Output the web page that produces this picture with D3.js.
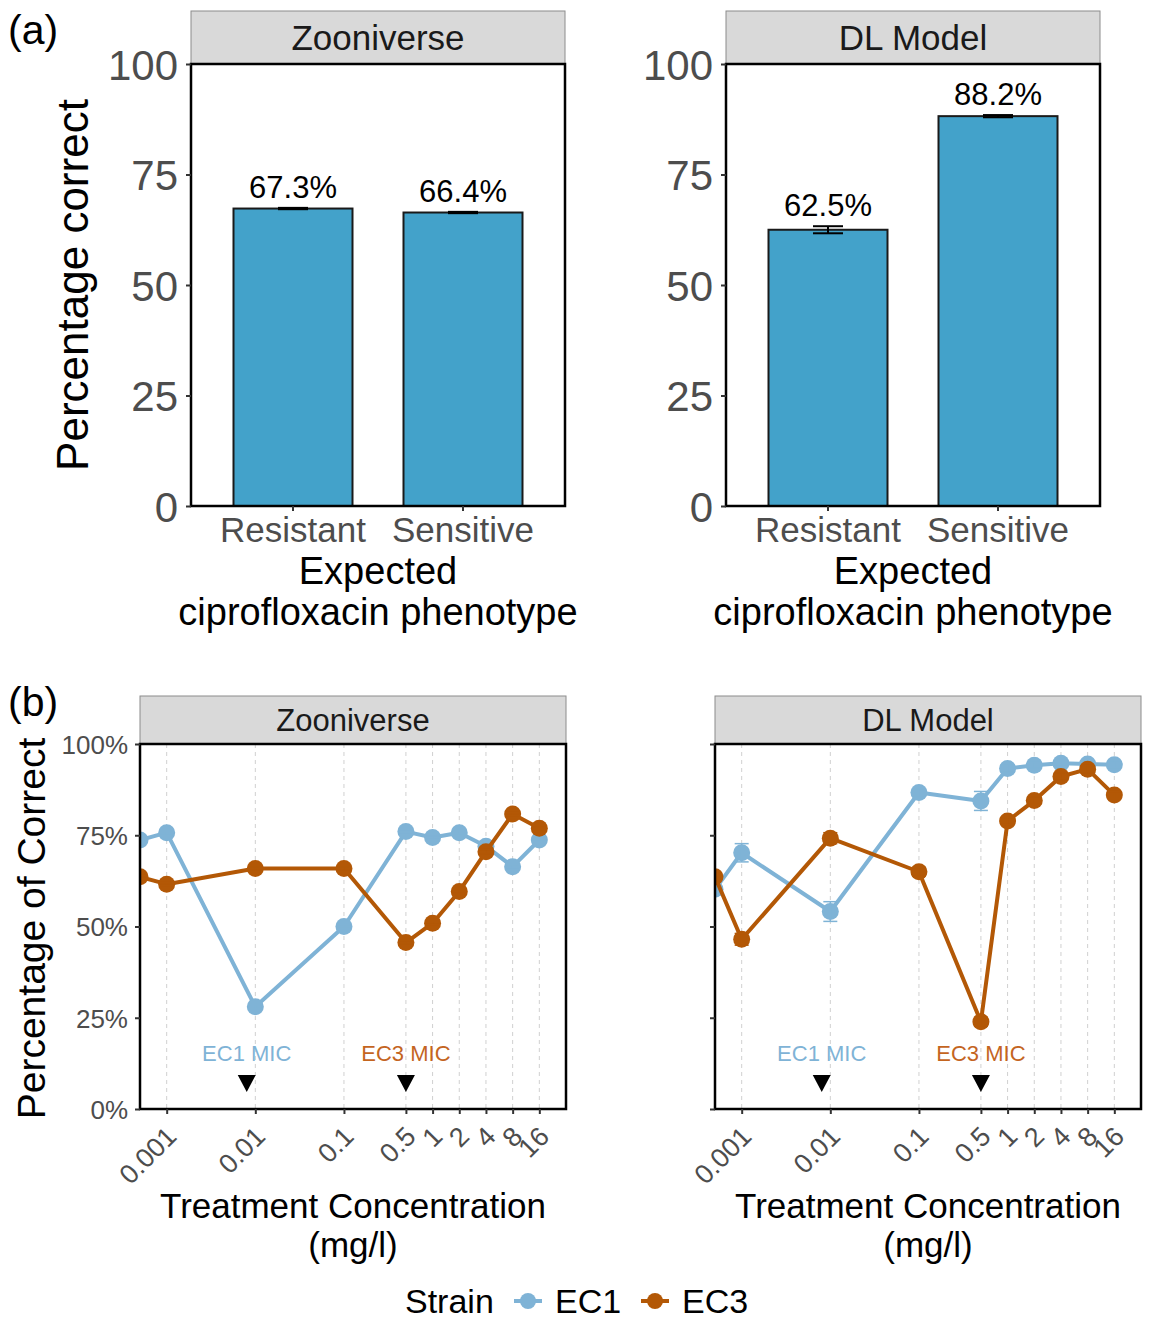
<!DOCTYPE html>
<html>
<head>
<meta charset="utf-8">
<script src="https://cdn.jsdelivr.net/npm/d3@7"></script>
<style>
  body { margin: 0; background: #fff; }
  svg { font-family: "Liberation Sans", Arial, sans-serif; display: block; }
</style>
</head>
<body>
<svg id="chart" width="1152" height="1319"></svg>
<script>
// ---- data ----
const phenotypes = ["Resistant", "Sensitive"];
const pctZooniverse = [67.3, 66.4];
const errZooniverse = [0.15, 0.15];
const pctDL = [62.5, 88.2];
const errDL = [0.8, 0.25];

const concentrations = [0.0005, 0.001, 0.01, 0.1, 0.5, 1, 2, 4, 8, 16];
const concTicks = [0.001, 0.01, 0.1, 0.5, 1, 2, 4, 8, 16];
const ec1Zoo = [73.7, 75.7, 28.0, 50.0, 76.0, 74.4, 75.7, 72.0, 66.4, 73.7];
const ec1ZooErr = [0.4, 0.4, 0.4, 0.4, 0.4, 0.4, 0.4, 0.6, 0.4, 0.4];
const ec3Zoo = [63.6, 61.6, 65.9, 65.9, 45.6, 50.9, 59.6, 70.5, 80.8, 76.9];
const ec3ZooErr = [0.4, 0.4, 0.4, 0.4, 0.4, 0.4, 0.4, 0.6, 0.4, 0.4];
const ec1DL = [60.2, 70.2, 54.1, 86.7, 84.4, 93.3, 94.2, 94.7, 94.5, 94.3];
const ec1DLErr = [1.0, 2.5, 2.7, 1.0, 2.6, 1.0, 0.8, 0.8, 0.8, 0.8];
const ec3DL = [63.6, 46.5, 74.2, 65.0, 23.9, 78.9, 84.5, 91.1, 93.1, 86.0];
const ec3DLErr = [1.0, 1.6, 1.5, 1.2, 1.2, 1.0, 1.0, 1.0, 1.0, 1.0];

const micConc = [0.008, 0.5];
const micLabels = ["EC1 MIC", "EC3 MIC"];
const strains = ["EC1", "EC3"];

const colEC1 = "#7fb3d6";
const colEC3 = "#b35806";
const colMIC = ["#7fb3d6", "#c4651f"];
const barFill = "#43a2ca";
const tickGrey = "#4d4d4d";

const svg = d3.select("#chart");

// ---------- (a) bar charts ----------
const topPanels = [
  {title: "Zooniverse", x0: 191, pct: pctZooniverse, err: errZooniverse},
  {title: "DL Model", x0: 726, pct: pctDL, err: errDL}
];
const topW = 374, topY0 = 64, topY1 = 506, topStrip = 53;

const yTop = d3.scaleLinear().domain([0, 100]).range([topY1, topY0]);

topPanels.forEach((p, pi) => {
  const g = svg.append("g");
  const x = d3.scaleBand().domain(phenotypes).range([p.x0, p.x0 + topW])
              .paddingInner(0.3).paddingOuter(0.25);

  // strip
  g.append("rect").attr("x", p.x0).attr("y", topY0 - topStrip)
   .attr("width", topW).attr("height", topStrip)
   .attr("fill", "#d9d9d9").attr("stroke", "#8c8c8c").attr("stroke-width", 1);
  g.append("text").attr("x", p.x0 + topW / 2).attr("y", topY0 - topStrip / 2)
   .attr("dy", "0.36em").attr("text-anchor", "middle")
   .attr("font-size", 35).attr("fill", "#1a1a1a").text(p.title);

  // bars
  g.selectAll(".bar").data(phenotypes).enter().append("rect")
   .attr("x", d => x(d)).attr("width", x.bandwidth())
   .attr("y", (d, i) => yTop(p.pct[i]))
   .attr("height", (d, i) => yTop(0) - yTop(p.pct[i]))
   .attr("fill", barFill).attr("stroke", "#1a1a1a").attr("stroke-width", 2);

  // error bars + value labels
  phenotypes.forEach((d, i) => {
    const cx = x(d) + x.bandwidth() / 2;
    const lo = yTop(p.pct[i] - p.err[i]), hi = yTop(p.pct[i] + p.err[i]);
    g.append("line").attr("x1", cx).attr("x2", cx).attr("y1", lo).attr("y2", hi)
     .attr("stroke", "#000").attr("stroke-width", 2);
    [lo, hi].forEach(yy => g.append("line").attr("x1", cx - 15).attr("x2", cx + 15)
      .attr("y1", yy).attr("y2", yy).attr("stroke", "#000").attr("stroke-width", 2));
    g.append("text").attr("x", cx).attr("y", hi - 10).attr("text-anchor", "middle")
     .attr("font-size", 31).attr("fill", "#000").text(p.pct[i].toFixed(1) + "%");
  });

  // panel border
  g.append("rect").attr("x", p.x0).attr("y", topY0).attr("width", topW)
   .attr("height", topY1 - topY0).attr("fill", "none")
   .attr("stroke", "#000").attr("stroke-width", 2.5);

  // axes
  const ya = g.append("g").attr("transform", `translate(${p.x0},0)`)
    .call(d3.axisLeft(yTop).tickValues([0, 25, 50, 75, 100]).tickSize(5).tickPadding(8));
  ya.select(".domain").remove();
  ya.selectAll("line").attr("stroke", "#333").attr("stroke-width", 2);
  ya.selectAll("text").attr("font-size", 42).attr("fill", tickGrey).attr("dy", "0.36em");

  const xa = g.append("g").attr("transform", `translate(0,${topY1})`)
    .call(d3.axisBottom(x).tickSize(5).tickPadding(6));
  xa.select(".domain").remove();
  xa.selectAll("line").attr("stroke", "#333").attr("stroke-width", 2);
  xa.selectAll("text").attr("font-size", 35).attr("fill", tickGrey).attr("dy", "0.72em");

  g.append("text").attr("x", p.x0 + topW / 2).attr("y", 584).attr("text-anchor", "middle")
   .attr("font-size", 38).attr("fill", "#000").text("Expected");
  g.append("text").attr("x", p.x0 + topW / 2).attr("y", 625).attr("text-anchor", "middle")
   .attr("font-size", 38).attr("fill", "#000").text("ciprofloxacin phenotype");
});

svg.append("text").attr("transform", `translate(88,${(topY0 + topY1) / 2}) rotate(-90)`)
   .attr("text-anchor", "middle").attr("font-size", 44).attr("fill", "#000")
   .text("Percentage correct");
svg.append("text").attr("x", 8).attr("y", 44).attr("font-size", 41).text("(a)");

// ---------- (b) line charts ----------
const botPanels = [
  {title: "Zooniverse", x0: 140, ec1: ec1Zoo, ec1e: ec1ZooErr, ec3: ec3Zoo, ec3e: ec3ZooErr, labels: true},
  {title: "DL Model", x0: 715, ec1: ec1DL, ec1e: ec1DLErr, ec3: ec3DL, ec3e: ec3DLErr, labels: false}
];
const botW = 426, botY0 = 744, botY1 = 1109, botStrip = 48;
const yBot = d3.scaleLinear().domain([0, 100]).range([botY1, botY0]);

botPanels.forEach((p, pi) => {
  const g = svg.append("g");
  const x = d3.scaleLog().domain([0.0005, 32]).range([p.x0, p.x0 + botW]);

  svg.append("clipPath").attr("id", "clip" + pi).append("rect")
     .attr("x", p.x0).attr("y", botY0).attr("width", botW).attr("height", botY1 - botY0);

  // strip
  g.append("rect").attr("x", p.x0).attr("y", botY0 - botStrip)
   .attr("width", botW).attr("height", botStrip)
   .attr("fill", "#d9d9d9").attr("stroke", "#8c8c8c").attr("stroke-width", 1);
  g.append("text").attr("x", p.x0 + botW / 2).attr("y", botY0 - botStrip / 2)
   .attr("dy", "0.36em").attr("text-anchor", "middle")
   .attr("font-size", 31).attr("fill", "#1a1a1a").text(p.title);

  // grid
  g.selectAll(".grid").data(concTicks).enter().append("line")
   .attr("x1", d => x(d)).attr("x2", d => x(d)).attr("y1", botY0).attr("y2", botY1)
   .attr("stroke", "#d0d0d0").attr("stroke-width", 1).attr("stroke-dasharray", "4,4");

  const plot = g.append("g").attr("clip-path", `url(#clip${pi})`);
  const series = [
    {vals: p.ec1, err: p.ec1e, col: colEC1},
    {vals: p.ec3, err: p.ec3e, col: colEC3}
  ];
  const line = d3.line().x(d => x(d[0])).y(d => yBot(d[1]));
  series.forEach(s => {
    const pts = concentrations.map((c, i) => [c, s.vals[i], s.err[i]]);
    plot.append("path").datum(pts).attr("d", line).attr("fill", "none")
        .attr("stroke", s.col).attr("stroke-width", 4).attr("stroke-linejoin", "round");
    plot.selectAll(null).data(pts).enter().append("circle")
        .attr("cx", d => x(d[0])).attr("cy", d => yBot(d[1])).attr("r", 8.5)
        .attr("fill", s.col);
    pts.forEach(d => {
      const cx = x(d[0]), lo = yBot(d[1] - d[2]), hi = yBot(d[1] + d[2]);
      plot.append("line").attr("x1", cx).attr("x2", cx).attr("y1", lo).attr("y2", hi)
          .attr("stroke", s.col).attr("stroke-width", 1.5);
      [lo, hi].forEach(yy => plot.append("line").attr("x1", cx - 7).attr("x2", cx + 7)
          .attr("y1", yy).attr("y2", yy).attr("stroke", s.col).attr("stroke-width", 1.5));
    });
  });

  // MIC markers
  micConc.forEach((m, i) => {
    const mx = x(m);
    g.append("text").attr("x", mx).attr("y", 1053).attr("dy", "0.36em")
     .attr("text-anchor", "middle").attr("font-size", 22).attr("fill", colMIC[i])
     .text(micLabels[i]);
    g.append("path").attr("d", `M${mx - 9},1075 L${mx + 9},1075 L${mx},1092 Z`)
     .attr("fill", "#000");
  });

  // border
  g.append("rect").attr("x", p.x0).attr("y", botY0).attr("width", botW)
   .attr("height", botY1 - botY0).attr("fill", "none")
   .attr("stroke", "#000").attr("stroke-width", 2.5);

  const ya = g.append("g").attr("transform", `translate(${p.x0},0)`)
    .call(d3.axisLeft(yBot).tickValues([0, 25, 50, 75, 100]).tickSize(5).tickPadding(7)
      .tickFormat(d => p.labels ? d + "%" : ""));
  ya.select(".domain").remove();
  ya.selectAll("line").attr("stroke", "#333").attr("stroke-width", 2);
  ya.selectAll("text").attr("font-size", 26).attr("fill", tickGrey).attr("dy", "0.36em");

  const xa = g.append("g").attr("transform", `translate(0,${botY1})`)
    .call(d3.axisBottom(x).tickValues(concTicks).tickSize(5).tickFormat(d => String(d)));
  xa.select(".domain").remove();
  xa.selectAll("line").attr("stroke", "#333").attr("stroke-width", 2);
  xa.selectAll("text").attr("font-size", 27).attr("fill", tickGrey)
    .attr("text-anchor", "end").attr("y", 0).attr("dy", 0)
    .attr("transform", "translate(11,29) rotate(-45)");

  g.append("text").attr("x", p.x0 + botW / 2).attr("y", 1218).attr("text-anchor", "middle")
   .attr("font-size", 35).attr("fill", "#000").text("Treatment Concentration");
  g.append("text").attr("x", p.x0 + botW / 2).attr("y", 1257).attr("text-anchor", "middle")
   .attr("font-size", 35).attr("fill", "#000").text("(mg/l)");
});

svg.append("text").attr("transform", `translate(45,${(botY0 + botY1) / 2 + 2}) rotate(-90)`)
   .attr("text-anchor", "middle").attr("font-size", 39).attr("fill", "#000")
   .text("Percentage of Correct");
svg.append("text").attr("x", 8).attr("y", 716).attr("font-size", 41).text("(b)");

// legend
const legend = svg.append("g").attr("transform", "translate(0,1301)");
legend.append("text").attr("x", 405).attr("y", 0).attr("dy", "0.36em")
      .attr("font-size", 34).attr("fill", "#000").text("Strain");
const legendItems = [
  {label: strains[0], col: colEC1, x: 514},
  {label: strains[1], col: colEC3, x: 641}
];
legendItems.forEach(d => {
  legend.append("line").attr("x1", d.x).attr("x2", d.x + 28).attr("y1", 0).attr("y2", 0)
        .attr("stroke", d.col).attr("stroke-width", 4);
  legend.append("circle").attr("cx", d.x + 14).attr("cy", 0).attr("r", 8).attr("fill", d.col);
  legend.append("text").attr("x", d.x + 41).attr("y", 0).attr("dy", "0.36em")
        .attr("font-size", 34).attr("fill", "#000").text(d.label);
});
</script>
</body>
</html>
